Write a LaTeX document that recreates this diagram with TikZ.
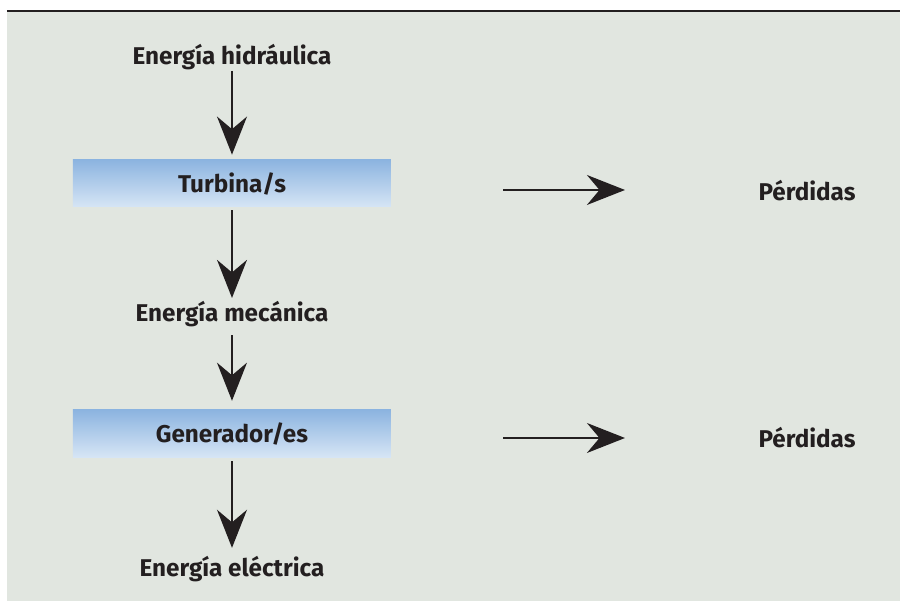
\documentclass[tikz,border=0pt]{standalone}
\usepackage{fontspec}
\setmainfont{Fira Sans}
\usepackage{xcolor}
\usetikzlibrary{arrows.meta, calc}

\definecolor{fondo}{HTML}{E1E6E0}
\definecolor{tinta}{HTML}{231F20}
\definecolor{azularriba}{HTML}{8CB4E0}
\definecolor{azulabajo}{HTML}{D6E5F5}

\begin{document}
\begin{tikzpicture}[
        etiqueta/.style={font=\fontsize{23}{26}\selectfont\bfseries, text=tinta, inner sep=0pt},
        caja/.style={etiqueta, minimum width=10.6cm, minimum height=1.567cm, top color=azularriba, bottom color=azulabajo},
        flecha/.style={draw=tinta, line width=1.4pt, -{Stealth[length=1.27cm, width=1cm, inset=0.42cm]}}
    ]
        \useasboundingbox (0,0) rectangle (30,20.033);
        \fill[fondo] (0.233,0) rectangle (30,19.633);
        \draw[tinta, line width=1.9pt] (0.233,19.667) -- (30,19.667);

        \node[etiqueta] (hidraulica) at (7.733,18.133) {Energía hidráulica};
        \node[caja] (turbina) at (7.733,13.917) {Turbina/s};
        \node[etiqueta] (mecanica) at (7.733,9.567) {Energía mecánica};
        \node[caja] (generador) at (7.733,5.583) {Generador/es};
        \node[etiqueta] (electrica) at (7.733,1.067) {Energía eléctrica};

        \node[etiqueta] (perdidas1) at (26.9,13.667) {Pérdidas};
        \node[etiqueta] (perdidas2) at (26.9,5.433) {Pérdidas};

        \coordinate (p1a) at (16.767,13.7);
        \coordinate (p1b) at (20.833,13.7);
        \coordinate (p2a) at (16.767,5.433);
        \coordinate (p2b) at (20.833,5.433);

        \draw[flecha, shorten <=0.03cm, shorten >=0.17cm] (hidraulica.south) -- (turbina.north);
        \draw[flecha, shorten <=0.1cm, shorten >=0.1cm] (turbina.south) -- (mecanica.north);
        \draw[flecha, shorten <=0.27cm, shorten >=0.3cm] (mecanica.south) -- (generador.north);
        \draw[flecha, shorten <=0.13cm, shorten >=0.27cm] (generador.south) -- (electrica.north);
        \draw[flecha] (p1a) -- (p1b);
        \draw[flecha] (p2a) -- (p2b);
\end{tikzpicture}
\end{document}
